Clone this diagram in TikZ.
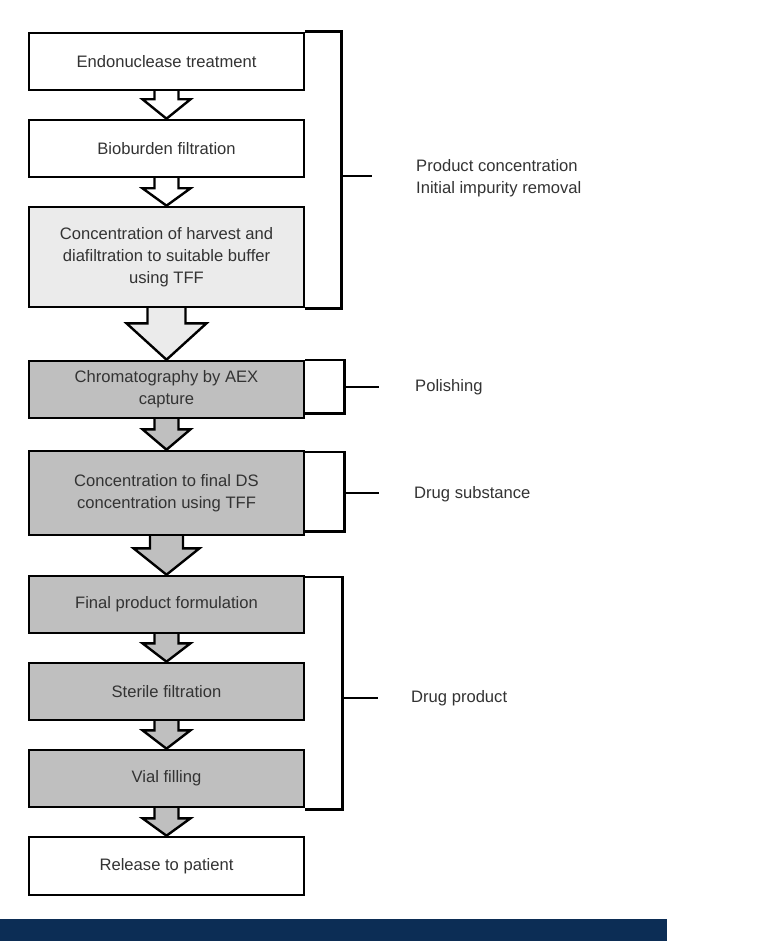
\documentclass[tikz,border=0pt]{standalone}
\usepackage{fontspec}
\setmainfont{Liberation Sans}
\usetikzlibrary{calc,backgrounds}
\definecolor{txt}{HTML}{333333}
\definecolor{lightfill}{HTML}{EBEBEB}
\definecolor{grayfill}{HTML}{BFBFBF}
\definecolor{navy}{HTML}{0C2D55}
\newcommand{\flowarrow}[6]{%
  \filldraw[arrowline, fill=#6]
    ($(#1.south)+(-#3,-2)$) -- ($(#1.south)+(-#3,#5)$) -- ($(#1.south)+(-#4,#5)$)
    -- (#2.north) -- ($(#1.south)+(#4,#5)$) -- ($(#1.south)+(#3,#5)$)
    -- ($(#1.south)+(#3,-2)$);}
\begin{document}
\begin{tikzpicture}[x=1pt,y=-1pt,
  every node/.style={text=txt, font=\fontsize{16.6}{22}\selectfont},
  stepbox/.style={draw=black, line width=2.6pt, minimum width=275pt, inner sep=0pt, align=center},
  arrowline/.style={draw=black, line width=2.4pt, line join=miter},
  bracket/.style={draw=black, line width=2.4pt},
  lbl/.style={anchor=west, align=left, inner sep=0pt}]
\useasboundingbox (0,0) rectangle (768,941);

\node[stepbox, fill=white, minimum height=57pt] (b1) at (166.5,61.5) {Endonuclease treatment};
\node[stepbox, fill=white, minimum height=57pt] (b2) at (166.5,148.5) {Bioburden filtration};
\node[stepbox, fill=lightfill, minimum height=100pt] (b3) at (166.5,257) {Concentration of harvest and\\diafiltration to suitable buffer\\using TFF};
\node[stepbox, fill=grayfill, minimum height=57pt] (b4) at (166.5,389.5) {Chromatography by AEX\\capture};
\node[stepbox, fill=grayfill, minimum height=84pt] (b5) at (166.5,493) {Concentration to final DS\\concentration using TFF};
\node[stepbox, fill=grayfill, minimum height=57pt] (b6) at (166.5,604.5) {Final product formulation};
\node[stepbox, fill=grayfill, minimum height=57pt] (b7) at (166.5,691.5) {Sterile filtration};
\node[stepbox, fill=grayfill, minimum height=57pt] (b8) at (166.5,778.5) {Vial filling};
\node[stepbox, fill=white, minimum height=58pt] (b9) at (166.5,866) {Release to patient};

\begin{scope}[on background layer]
\fill[white] (0,0) rectangle (768,941);
\fill[navy] (0,919) rectangle (667,941);
\flowarrow{b1}{b2}{12}{24}{8}{white}
\flowarrow{b2}{b3}{12}{24}{10}{white}
\flowarrow{b3}{b4}{19}{40}{15}{lightfill}
\flowarrow{b4}{b5}{12}{24}{10}{grayfill}
\flowarrow{b5}{b6}{16.5}{33}{12}{grayfill}
\flowarrow{b6}{b7}{12}{24}{9}{grayfill}
\flowarrow{b7}{b8}{12}{24}{9}{grayfill}
\flowarrow{b8}{b9}{12}{24}{10}{grayfill}
\end{scope}

% brackets
\coordinate (t1) at (372,176);
\coordinate (t2) at (379,387);
\coordinate (t3) at (379,493);
\coordinate (t4) at (378,698);
\draw[bracket] (b1.north east) -- ++(36,0) |- (b3.south east);
\draw[bracket] (340,176) -- (t1);
\draw[bracket] (b4.north east) -- ++(39,0) |- ($(b4.south east)+(0,-6)$);
\draw[bracket] (343,387) -- (t2);
\draw[bracket] ($(b5.north east)+(0,2)$) -- ++(39,0) |- ($(b5.south east)+(0,-5)$);
\draw[bracket] (343,493) -- (t3);
\draw[bracket] ($(b6.north east)+(0,2)$) -- ++(37,0) |- ($(b8.south east)+(0,1)$);
\draw[bracket] (341,698) -- (t4);

\node[lbl] (l1) at (416,178) {Product concentration\\Initial impurity removal};
\node[lbl] (l2) at (415,387) {Polishing};
\node[lbl] (l3) at (414,494) {Drug substance};
\node[lbl] (l4) at (411,698) {Drug product};
\end{tikzpicture}
\end{document}
